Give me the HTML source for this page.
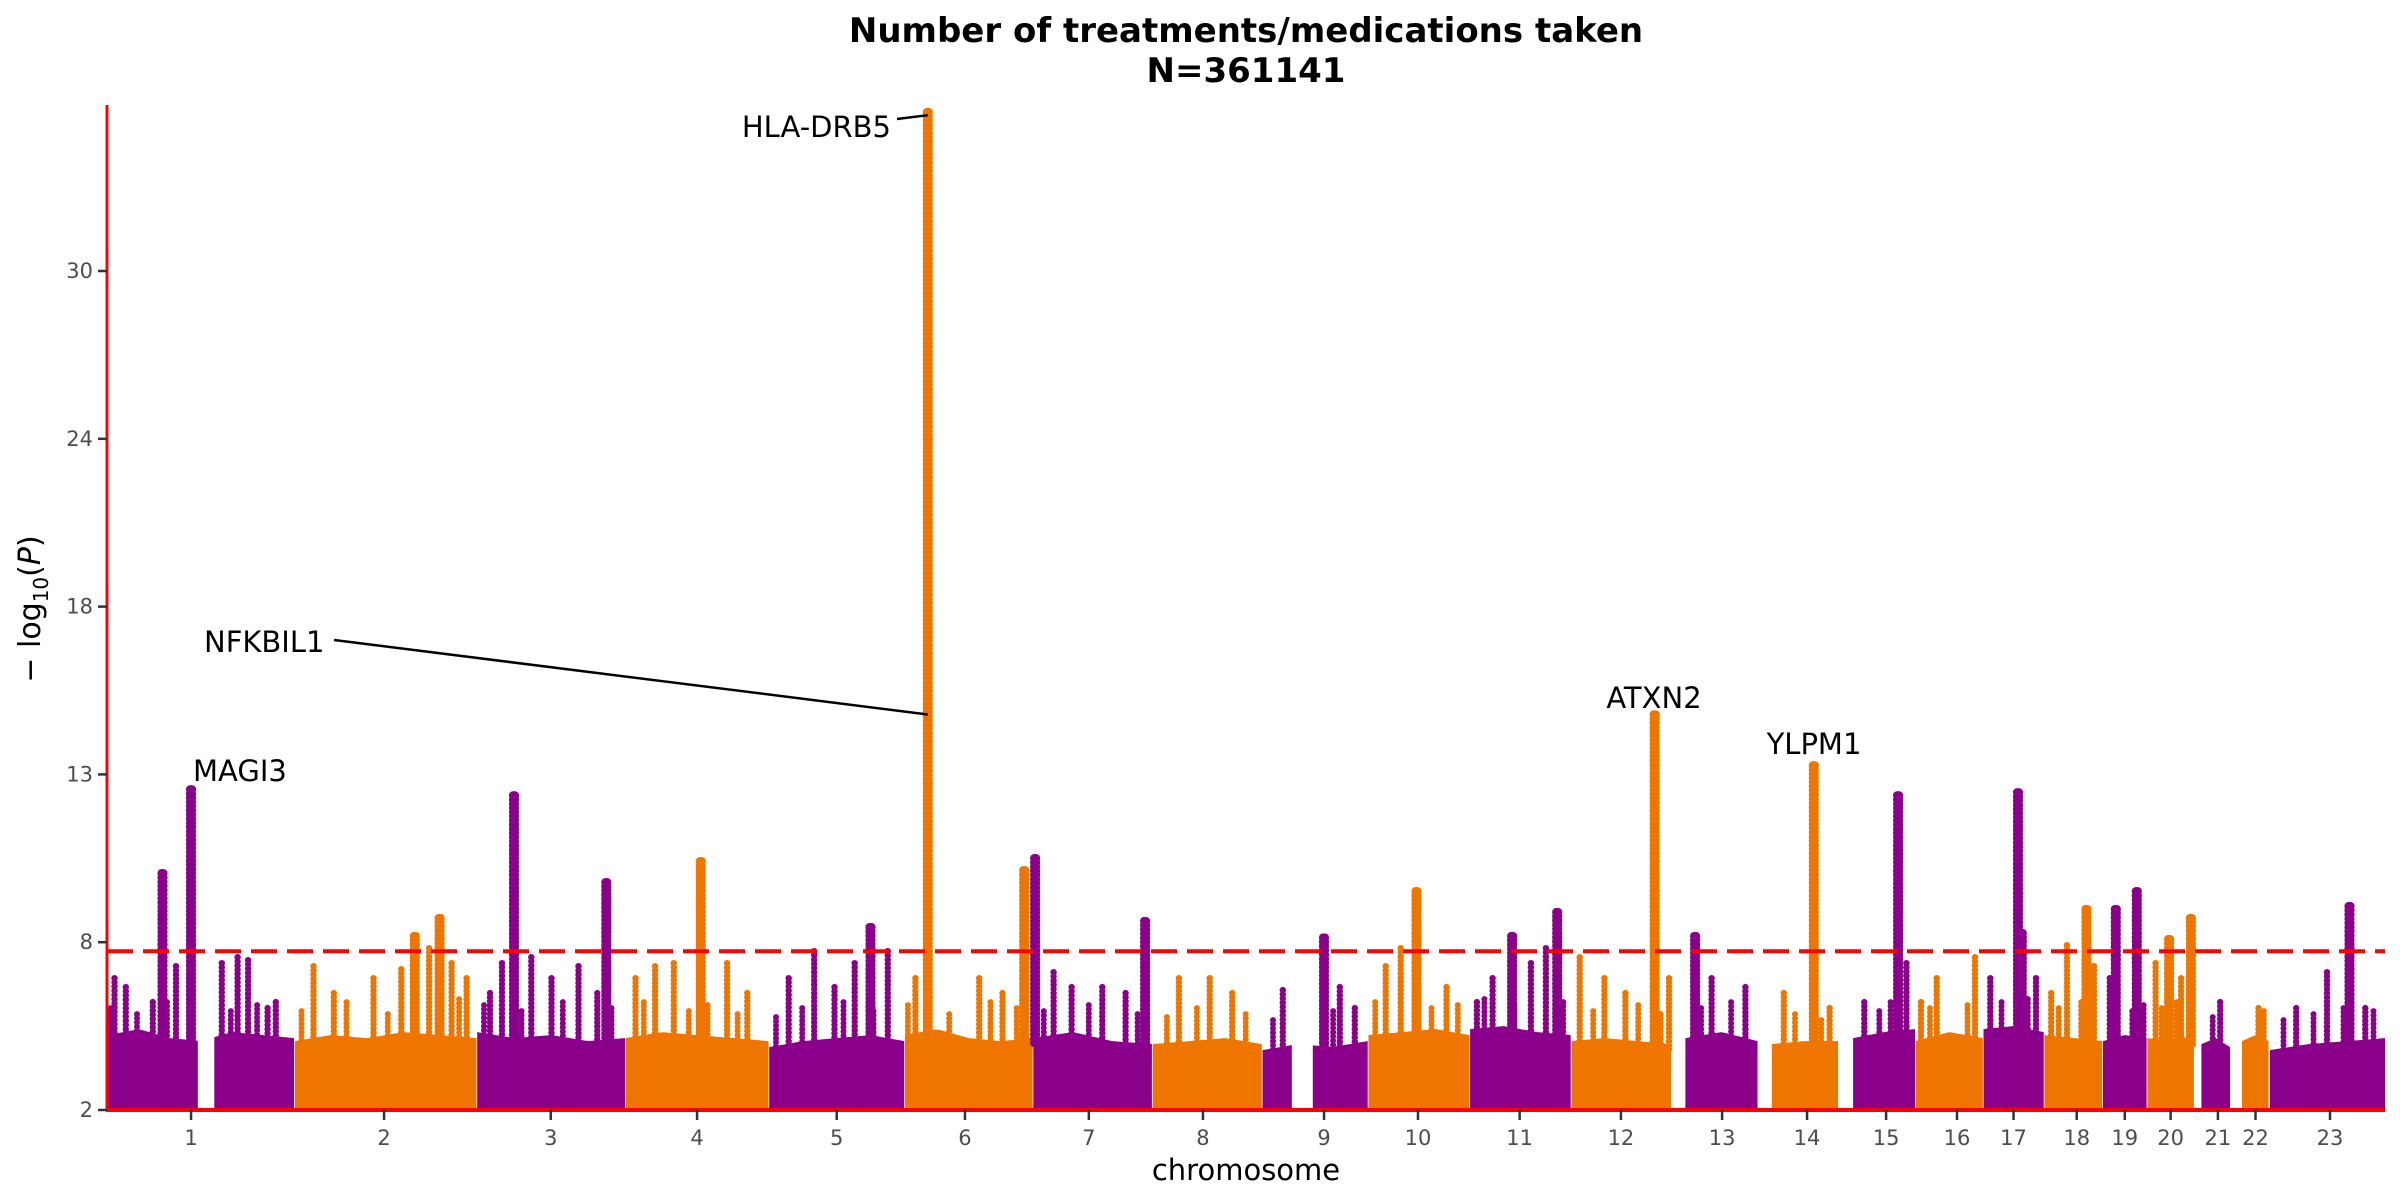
<!DOCTYPE html>
<html><head><meta charset="utf-8">
<style>
html,body{margin:0;padding:0;background:#fff;}
svg{display:block;font-family:"DejaVu Sans","Liberation Sans",sans-serif;}
</style></head>
<body>
<svg id="chart" width="2400" height="1200" viewBox="0 0 2400 1200">
  <text x="1246" y="42" text-anchor="middle" font-size="34" font-weight="bold" fill="#000">Number of treatments/medications taken</text>
  <text x="1246" y="82" text-anchor="middle" font-size="34" font-weight="bold" fill="#000">N=361141</text>
  <g id="envelopes"></g>
  <g id="spikes"></g>
  <g id="axes"></g>
  <g id="labels"></g>
  <text x="1246" y="1180" text-anchor="middle" font-size="29" fill="#000">chromosome</text>
  <text transform="translate(40,609) rotate(-90)" text-anchor="middle" font-size="30" fill="#000">− log<tspan font-size="20" dy="8">10</tspan><tspan dy="-8">(</tspan><tspan font-style="italic">P</tspan>)</text>
</svg>
<script>
const chrLen=[249.25,243.2,198.0,191.15,180.9,171.1,159.1,146.4,141.2,135.5,135.0,133.85,115.2,107.35,102.5,90.35,81.2,78.1,59.1,63.0,48.1,51.3,155.3];
const chrTickMb=[112,120,99,96,91,81,75,68,83,67,67,67,68,66,64,56,41,44,30,32,32,34,82];
const chrDataStart=[1,1,1,1,1,1,1,1,1,1,1,1,19,19,20,1,1,1,1,1,10,16,2];
const gaps=[[1,121,143],[9,40,68]];
const envelope=[
 [4.5,4.7,4.4,4.3,4.6,4.5,4.4],[4.3,4.5,4.4,4.6,4.5,4.4],[4.6,4.4,4.5,4.3,4.4],[4.4,4.6,4.5,4.4,4.3],
 [4.1,4.3,4.4,4.5,4.3],[4.5,4.7,4.4,4.3,4.4],[4.4,4.6,4.3,4.2],[4.2,4.3,4.4,4.2],[4.0,4.2,4.1,4.3],
 [4.5,4.6,4.7,4.5],[4.7,4.8,4.6,4.5],[4.3,4.4,4.3,4.2],[4.4,4.6,4.3],[4.2,4.3,4.3],[4.4,4.6,4.7],
 [4.3,4.6,4.4],[4.7,4.8,4.6],[4.5,4.4,4.3],[4.3,4.5,4.4],[4.4,4.3,4.5],[4.2,4.4,4.1],[4.3,4.5,4.3],[4.0,4.2,4.3,4.4]
];
const peakChr=[1,1,2,2,3,3,4,5,6,6,7,7,9,10,11,11,12,13,14,15,17,17,18,19,19,20,20,23];
const peakPos=[74,112,161,194,50,173,101,136,31.5,160,3.4,150,83,65,57,117,112,32,75,80,47,52,57,18,46,30,59,108];
const peakTop=[9.9,12.7,7.8,8.4,12.5,9.6,10.3,8.1,35.3,10.0,10.4,8.3,7.75,9.3,7.8,8.6,15.2,7.8,13.5,12.5,12.6,7.9,8.7,8.7,9.3,7.7,8.4,8.8];
const spikeChr=[1,1,1,1,1,1,1,1,1,2,2,2,2,2,2,2,3,3,3,3,3,3,4,4,4,4,4,5,5,5,5,5,6,6,6,7,7,7,7,8,8,8,9,9,9,10,10,10,11,11,11,11,12,12,12,12,13,13,14,14,15,15,16,16,16,17,17,18,18,18,19,20,20,21,22,23,23,23];
const spikePos=[10,25,61,92,153,174,188,214,225,26,53,106,143,180,210,230,18,34,73,100,136,161,14,40,65,136,163,27,61,88,115,159,15,100,131,28,52,93,124,36,77,107,28,104,124,24,44,105,10,31,82,102,12,45,73,131,54,99,35,96,35,91,8,29,80,10,71,10,31,67,10,12,46,35,38,37,78,129];
const spikeTop=[6.4,6.1,5.6,6.8,6.9,7.1,7.0,5.4,5.6,6.8,5.9,6.4,6.7,7.4,6.9,6.4,5.9,6.9,7.1,6.4,6.8,5.9,6.4,6.8,6.9,6.9,5.9,6.4,7.3,6.1,6.9,7.3,6.4,6.4,5.9,6.6,6.1,6.1,5.9,6.4,6.4,5.9,6.0,6.1,5.4,6.8,7.4,6.1,5.6,6.4,6.9,7.4,7.1,6.4,5.9,6.4,6.4,6.1,5.9,5.4,5.6,6.9,5.6,6.4,7.1,6.4,6.4,5.9,7.5,6.8,6.4,6.9,6.4,5.6,5.4,5.4,6.6,5.4];
const minorChr=[1,1,1,1,1,2,2,2,2,2,2,3,3,3,3,4,4,4,4,5,5,5,5,6,6,6,6,7,7,7,8,8,8,9,9,10,10,10,11,11,11,12,12,12,13,13,14,14,15,15,16,16,17,17,18,18,19,19,20,20,21,22,23,23,23,23];
const minorPos=[5,40,80,165,200,10,70,125,160,195,220,10,60,115,180,25,85,110,150,10,45,100,140,5,60,115,150,15,75,140,20,60,125,15,95,10,85,120,20,60,125,30,90,120,40,80,50,85,55,70,20,70,25,60,20,50,40,55,20,40,25,45,20,60,100,140];
const minorTop=[5.4,5.2,5.6,5.3,5.5,5.3,5.6,5.2,5.5,5.4,5.7,5.5,5.3,5.6,5.4,5.6,5.3,5.5,5.2,5.1,5.4,5.6,5.3,5.5,5.2,5.6,5.4,5.3,5.5,5.2,5.1,5.4,5.2,5.0,5.3,5.6,5.4,5.5,5.7,5.5,5.6,5.3,5.5,5.2,5.4,5.6,5.2,5.0,5.3,5.6,5.4,5.5,5.6,5.7,5.4,5.6,5.3,5.5,5.4,5.6,5.1,5.3,5.0,5.2,5.4,5.3];
const yTickVals=[2,7.6,13.2,18.8,24.4,30];
const yTickLabels=["2","8","13","18","24","30"];
const threshold=7.3;
const labelText=["HLA-DRB5","NFKBIL1","MAGI3","ATXN2","YLPM1"];

const NS="http://www.w3.org/2000/svg";
const PL=107,PR=2385,PT=105,PB=1110;
const chrStart=[];let acc=0;for(const L of chrLen){chrStart.push(acc);acc+=L;}
const TOTAL=acc;
function xScale(c){return PL+c/TOTAL*(PR-PL);}
function yScale(v){return PB-(v-2)*(PB-271)/28;}
function xOf(chr,mb){return xScale(chrStart[chr-1]+mb);}
function colorOf(chr){return chr%2===1?"#8B008B":"#EE7600";}
function mk(tag,attrs,parent){const e=document.createElementNS(NS,tag);for(const k in attrs)e.setAttribute(k,attrs[k]);parent.appendChild(e);return e;}
function envAt(chr,mb){const arr=envelope[chr-1];const s=chrDataStart[chr-1],e=chrLen[chr-1];const t=Math.max(0,Math.min(1,(mb-s)/(e-s)))*(arr.length-1);const i=Math.min(arr.length-2,Math.floor(t));const f=t-i;return arr[i]*(1-f)+arr[i+1]*f;}

const envG=document.getElementById('envelopes');
for(let c=1;c<=23;c++){
  let segs=[[chrDataStart[c-1],chrLen[c-1]]];
  for(const g of gaps){if(g[0]===c){const n=[];for(const s of segs){if(g[1]>s[0]&&g[2]<s[1]){n.push([s[0],g[1]]);n.push([g[2],s[1]]);}else n.push(s);}segs=n;}}
  for(const s of segs){
    const pts=[];const N=30;
    pts.push(xOf(c,s[0]).toFixed(1)+","+PB);
    for(let i=0;i<=N;i++){const mb=s[0]+(s[1]-s[0])*i/N;pts.push(xOf(c,mb).toFixed(1)+","+yScale(envAt(c,mb)).toFixed(1));}
    pts.push(xOf(c,s[1]).toFixed(1)+","+PB);
    const p=mk('polygon',{points:pts.join(" "),fill:colorOf(c)},envG);
    
    
  }
}

const spG=document.getElementById('spikes');
function column(chr,pos,top,r,name,offs){
  const g=mk('g',{fill:colorOf(chr)},spG);
  
  
  const cx=xOf(chr,pos);const base=envAt(chr,pos)-0.3;
  for(const o of offs){
    for(let v=top;v>base;v-=0.14){mk('circle',{cx:(cx+o).toFixed(1),cy:yScale(v).toFixed(1),r:r},g);}
  }
}
for(let i=0;i<minorChr.length;i++) column(minorChr[i],minorPos[i],minorTop[i],3.0,'minor-spike-chr'+minorChr[i],[0]);
for(let i=0;i<spikeChr.length;i++) column(spikeChr[i],spikePos[i],spikeTop[i],3.2,'spike-chr'+spikeChr[i],[0]);
for(let i=0;i<peakChr.length;i++) column(peakChr[i],peakPos[i],peakTop[i],4.3,'peak-chr'+peakChr[i],[-0.8,0.8]);

const ax=document.getElementById('axes');
const th=mk('line',{x1:PL,x2:PR,y1:yScale(threshold),y2:yScale(threshold),stroke:"#FF0000","stroke-width":4,"stroke-dasharray":"26 10"},ax);


const yl=mk('line',{x1:PL,x2:PL,y1:PT,y2:PB+1,stroke:"#FF0000","stroke-width":3},ax);


const xl=mk('line',{x1:PL-1,x2:PR,y1:PB,y2:PB,stroke:"#FF0000","stroke-width":4},ax);


for(let i=0;i<yTickVals.length;i++){
  const y=yScale(yTickVals[i]);
  const t=mk('line',{x1:PL-9,x2:PL,y1:y,y2:y,stroke:"#333","stroke-width":2.5},ax);
  
  
  const l=mk('text',{x:PL-14,y:y+7,"text-anchor":"end","font-size":21,fill:"#4d4d4d"},ax);
  l.textContent=yTickLabels[i];
  
  
}
for(let c=1;c<=23;c++){
  const x=xOf(c,chrTickMb[c-1]);
  const t=mk('line',{x1:x,x2:x,y1:PB,y2:PB+10,stroke:"#333","stroke-width":2.5},ax);
  
  
  const l=mk('text',{x:x,y:PB+35,"text-anchor":"middle","font-size":21,fill:"#4d4d4d"},ax);
  l.textContent=String(c);
  
  
}

const lg=document.getElementById('labels');
function lab(txt,x,y,anchor,name){const t=mk('text',{x:x,y:y,"text-anchor":anchor,"font-size":29,fill:"#000"},lg);t.textContent=txt;}
function seg(x1,y1,x2,y2,name){const l=mk('line',{x1:x1,y1:y1,x2:x2,y2:y2,stroke:"#000","stroke-width":2.5},lg);}
const hx=xOf(6,31.5);
lab(labelText[0],891,137,"end","label-hla-drb5");
seg(897,119,hx,yScale(35.2),"leader-hla-drb5");
lab(labelText[1],204,652,"start","label-nfkbil1");
seg(334,640,hx,yScale(15.2),"leader-nfkbil1");
lab(labelText[2],193,781,"start","label-magi3");
lab(labelText[3],1654,708,"middle","label-atxn2");
lab(labelText[4],1814,754,"middle","label-ylpm1");
</script>
</body></html>
